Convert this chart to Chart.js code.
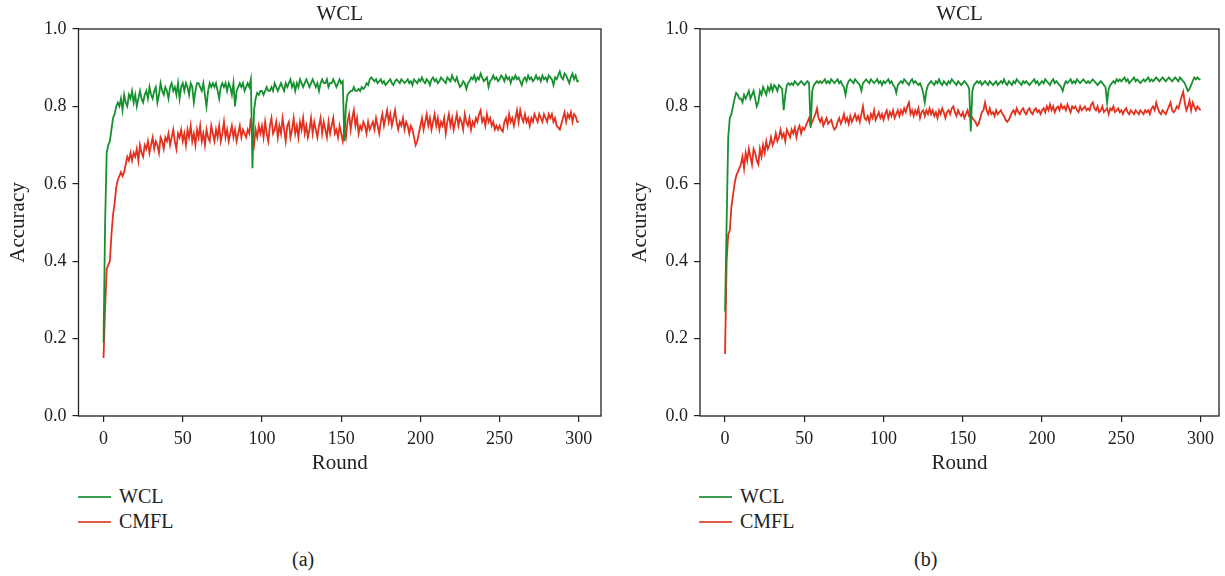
<!DOCTYPE html>
<html>
<head>
<meta charset="utf-8">
<script src="https://cdn.jsdelivr.net/npm/chart.js@4"></script>
<style>
  body { margin: 0; background: #fff; width: 1225px; height: 576px; position: relative; overflow: hidden; font-family: "Liberation Serif", "DejaVu Serif", serif; color: #222; }
  canvas { position: absolute; top: 0; }
  #chartA { left: 0; }
  #chartB { left: 612px; }
  .legend { position: absolute; font-size: 20px; line-height: 25px; }
  .legend div { position: relative; padding-left: 41px; }
  .legend span { position: absolute; left: 0; top: 12px; width: 33px; height: 1.6px; }
  .caption { position: absolute; font-size: 20px; top: 548px; }
</style>
</head>
<body>
<canvas id="chartA" width="612" height="480"></canvas>
<canvas id="chartB" width="613" height="480"></canvas>

<div class="legend" style="left:78px; top:484px;">
  <div><span style="background:#3d9c50"></span>WCL</div>
  <div><span style="background:#e55a48"></span>CMFL</div>
</div>
<div class="legend" style="left:699px; top:484px;">
  <div><span style="background:#3d9c50"></span>WCL</div>
  <div><span style="background:#e55a48"></span>CMFL</div>
</div>
<div class="caption" style="left:292px;">(a)</div>
<div class="caption" style="left:914px;">(b)</div>

<script>
// rounds 0..300
const rounds = Array.from({ length: 301 }, (_, i) => i);
const yTicks = [0, 0.2, 0.4, 0.6, 0.8, 1.0];

// panel (a)
const wclA = [
  0.19, 0.50, 0.68, 0.70, 0.71, 0.74, 0.77, 0.78, 0.80, 0.81,
  0.80, 0.82, 0.79, 0.83, 0.81, 0.80, 0.83, 0.82, 0.84, 0.81,
  0.83, 0.80, 0.82, 0.84, 0.82, 0.81, 0.83, 0.84, 0.82, 0.85,
  0.83, 0.82, 0.84, 0.85, 0.81, 0.83, 0.86, 0.84, 0.83, 0.85,
  0.84, 0.82, 0.85, 0.86, 0.84, 0.85, 0.83, 0.86, 0.82, 0.85,
  0.86, 0.84, 0.86, 0.85, 0.83, 0.86, 0.85, 0.81, 0.84, 0.86,
  0.86, 0.85, 0.84, 0.86, 0.83, 0.80, 0.84, 0.86, 0.85, 0.86,
  0.85, 0.86, 0.84, 0.82, 0.85, 0.86, 0.85, 0.86, 0.84, 0.86,
  0.85, 0.83, 0.86, 0.80, 0.84, 0.85, 0.86, 0.85, 0.86, 0.84,
  0.85, 0.86, 0.85, 0.87, 0.64, 0.79, 0.82, 0.835, 0.83, 0.84,
  0.84, 0.83, 0.84, 0.85, 0.84, 0.84, 0.85, 0.84, 0.86, 0.85,
  0.84, 0.85, 0.86, 0.85, 0.84, 0.86, 0.85, 0.86, 0.87, 0.85,
  0.86, 0.84, 0.86, 0.85, 0.87, 0.86, 0.85, 0.86, 0.87, 0.86,
  0.85, 0.86, 0.87, 0.86, 0.85, 0.86, 0.84, 0.86, 0.87, 0.86,
  0.86, 0.87, 0.85, 0.86, 0.86, 0.87, 0.86, 0.85, 0.86, 0.87,
  0.86, 0.865, 0.71, 0.80, 0.83, 0.835, 0.84, 0.84, 0.85, 0.84,
  0.84, 0.845, 0.84, 0.85, 0.845, 0.85, 0.86, 0.855, 0.87, 0.875,
  0.87, 0.865, 0.87, 0.86, 0.865, 0.87, 0.86, 0.865, 0.855, 0.86,
  0.865, 0.87, 0.86, 0.855, 0.865, 0.87, 0.865, 0.86, 0.87, 0.865,
  0.86, 0.865, 0.87, 0.86, 0.865, 0.855, 0.87, 0.865, 0.86, 0.87,
  0.865, 0.875, 0.865, 0.86, 0.87, 0.865, 0.855, 0.87, 0.875, 0.865,
  0.87, 0.86, 0.865, 0.875, 0.87, 0.865, 0.86, 0.875, 0.87, 0.865,
  0.88, 0.87, 0.865, 0.875, 0.86, 0.85, 0.855, 0.865, 0.86, 0.845,
  0.86, 0.865, 0.875, 0.87, 0.88, 0.865, 0.875, 0.87, 0.885, 0.875,
  0.865, 0.87, 0.875, 0.85, 0.865, 0.87, 0.88, 0.87, 0.875, 0.865,
  0.87, 0.88, 0.875, 0.865, 0.88, 0.87, 0.875, 0.86, 0.875, 0.87,
  0.88, 0.87, 0.875, 0.865, 0.855, 0.87, 0.875, 0.865, 0.88, 0.87,
  0.875, 0.865, 0.87, 0.88, 0.87, 0.875, 0.865, 0.88, 0.87, 0.875,
  0.865, 0.88, 0.875, 0.87, 0.855, 0.875, 0.87, 0.88, 0.89, 0.875,
  0.87, 0.885, 0.88, 0.87, 0.86, 0.875, 0.885, 0.87, 0.88, 0.865,
  0.865
];
const cmflA = [
  0.15, 0.28, 0.38, 0.39, 0.40, 0.47, 0.52, 0.55, 0.59, 0.61,
  0.62, 0.63, 0.62, 0.63, 0.65, 0.67, 0.66, 0.68, 0.66, 0.68,
  0.67, 0.69, 0.66, 0.70, 0.68, 0.67, 0.70, 0.69, 0.71, 0.68,
  0.70, 0.72, 0.69, 0.71, 0.70, 0.68, 0.72, 0.71, 0.69, 0.72,
  0.71, 0.73, 0.70, 0.72, 0.74, 0.71, 0.69, 0.73, 0.72, 0.74,
  0.71, 0.73, 0.70, 0.74, 0.72, 0.75, 0.71, 0.73, 0.70, 0.74,
  0.72, 0.75, 0.71, 0.73, 0.70, 0.74, 0.72, 0.71, 0.75, 0.73,
  0.71, 0.74, 0.72, 0.75, 0.71, 0.73, 0.76, 0.72, 0.74, 0.71,
  0.73, 0.75, 0.72, 0.74, 0.71, 0.73, 0.75, 0.72, 0.74, 0.73,
  0.72, 0.74, 0.73, 0.77, 0.72, 0.70, 0.74, 0.72, 0.75, 0.73,
  0.75, 0.72, 0.76, 0.73, 0.71, 0.75, 0.77, 0.73, 0.74, 0.76,
  0.72, 0.75, 0.73, 0.77, 0.74, 0.71, 0.75, 0.76, 0.72, 0.74,
  0.77, 0.73, 0.75, 0.72, 0.76, 0.74, 0.77, 0.73, 0.75, 0.72,
  0.74, 0.77, 0.73, 0.76, 0.74, 0.72, 0.75, 0.77, 0.73, 0.76,
  0.74, 0.72, 0.76, 0.73, 0.75, 0.77, 0.73, 0.74, 0.72, 0.75,
  0.73, 0.71, 0.74, 0.72, 0.76, 0.78, 0.74, 0.77, 0.79, 0.75,
  0.77, 0.73, 0.75, 0.74, 0.76, 0.75, 0.73, 0.76, 0.74, 0.75,
  0.76, 0.74, 0.77, 0.75, 0.73, 0.76, 0.78, 0.75, 0.77, 0.79,
  0.76, 0.78, 0.75, 0.77, 0.79, 0.76, 0.74, 0.76, 0.75, 0.77,
  0.74, 0.76, 0.75, 0.73, 0.75, 0.74, 0.72, 0.70, 0.71, 0.73,
  0.75, 0.77, 0.74, 0.76, 0.78, 0.75, 0.77, 0.74, 0.76, 0.78,
  0.75, 0.77, 0.74, 0.76, 0.75, 0.77, 0.73, 0.76, 0.78, 0.75,
  0.77, 0.74, 0.76, 0.78, 0.75, 0.77, 0.76, 0.74, 0.78, 0.76,
  0.75, 0.77, 0.74, 0.76, 0.75, 0.77, 0.76, 0.78, 0.79, 0.76,
  0.77, 0.75, 0.78, 0.76, 0.77, 0.75, 0.76, 0.74, 0.75, 0.74,
  0.75, 0.74, 0.735, 0.76, 0.77, 0.75, 0.78, 0.76, 0.77, 0.75,
  0.77, 0.79, 0.76, 0.79, 0.77, 0.76, 0.78, 0.76, 0.77, 0.75,
  0.77, 0.76, 0.78, 0.77, 0.76, 0.78, 0.77, 0.76, 0.78, 0.77,
  0.76, 0.78, 0.77, 0.78, 0.76, 0.77, 0.75, 0.745, 0.74, 0.755,
  0.77, 0.785, 0.76, 0.78, 0.77, 0.785, 0.76, 0.78, 0.775, 0.76,
  0.76
];

// panel (b)
const wclB = [
  0.27, 0.50, 0.72, 0.77, 0.78, 0.80, 0.82, 0.835, 0.83, 0.82,
  0.82, 0.81, 0.83, 0.82, 0.83, 0.84, 0.82, 0.83, 0.84, 0.82,
  0.80, 0.81, 0.84, 0.83, 0.85, 0.84, 0.83, 0.85, 0.84, 0.855,
  0.84, 0.855, 0.85, 0.84, 0.855, 0.85, 0.845, 0.79, 0.83, 0.855,
  0.86, 0.855, 0.86, 0.855, 0.865, 0.86, 0.855, 0.86, 0.865, 0.86,
  0.855, 0.86, 0.865, 0.86, 0.745, 0.84, 0.855, 0.86, 0.865, 0.86,
  0.865, 0.86, 0.865, 0.87, 0.86, 0.865, 0.86, 0.87, 0.865, 0.86,
  0.865, 0.87, 0.86, 0.865, 0.855, 0.85, 0.83, 0.855, 0.865, 0.87,
  0.865, 0.86, 0.87, 0.865, 0.86, 0.855, 0.84, 0.86, 0.865, 0.87,
  0.865, 0.86, 0.87, 0.865, 0.86, 0.865, 0.87, 0.86, 0.865, 0.855,
  0.865, 0.86, 0.865, 0.87, 0.86, 0.865, 0.855, 0.85, 0.835, 0.855,
  0.86, 0.865, 0.86, 0.87, 0.865, 0.86, 0.855, 0.865, 0.87, 0.86,
  0.865, 0.86, 0.855, 0.86, 0.85, 0.835, 0.81, 0.84, 0.855, 0.86,
  0.865, 0.86, 0.855, 0.865, 0.86, 0.87, 0.86, 0.855, 0.865, 0.86,
  0.855, 0.865, 0.86, 0.87, 0.865, 0.86, 0.855, 0.865, 0.86, 0.855,
  0.86, 0.865, 0.86, 0.855, 0.845, 0.735, 0.84, 0.855, 0.86, 0.865,
  0.86, 0.865, 0.855, 0.86, 0.865, 0.86, 0.855, 0.865, 0.86, 0.855,
  0.86, 0.865, 0.855, 0.86, 0.865, 0.86, 0.87, 0.86, 0.855, 0.865,
  0.86, 0.855, 0.865, 0.86, 0.87, 0.865, 0.86, 0.855, 0.865, 0.86,
  0.865, 0.86, 0.855, 0.86, 0.865, 0.87, 0.86, 0.865, 0.855, 0.86,
  0.865, 0.86, 0.87, 0.865, 0.86, 0.855, 0.865, 0.87, 0.86, 0.865,
  0.86, 0.855, 0.85, 0.84, 0.855, 0.865, 0.86, 0.865, 0.87, 0.86,
  0.865, 0.86, 0.87, 0.865, 0.86, 0.865, 0.87, 0.865, 0.86, 0.865,
  0.86, 0.865, 0.87, 0.865, 0.86, 0.855, 0.86, 0.865, 0.86, 0.855,
  0.85, 0.81, 0.845, 0.855, 0.86, 0.865, 0.86, 0.87, 0.865, 0.87,
  0.865, 0.87, 0.875, 0.865, 0.87, 0.86, 0.865, 0.87, 0.875, 0.865,
  0.87, 0.865, 0.86, 0.865, 0.87, 0.865, 0.87, 0.875, 0.865, 0.87,
  0.865, 0.87, 0.875, 0.87, 0.865, 0.87, 0.875, 0.87, 0.865, 0.87,
  0.875, 0.87, 0.865, 0.87, 0.875, 0.87, 0.865, 0.875, 0.87, 0.865,
  0.86, 0.85, 0.84, 0.845, 0.855, 0.865, 0.875, 0.87, 0.875, 0.87,
  0.87
];
const cmflB = [
  0.16, 0.40, 0.47, 0.48, 0.54, 0.57, 0.60, 0.62, 0.63, 0.64,
  0.65, 0.67, 0.64, 0.68, 0.66, 0.69, 0.67, 0.65, 0.69, 0.68,
  0.66, 0.65, 0.69, 0.67, 0.70, 0.68, 0.71, 0.69, 0.70, 0.72,
  0.70, 0.71, 0.73, 0.71, 0.72, 0.74, 0.72, 0.73, 0.71, 0.74,
  0.73, 0.72, 0.74, 0.73, 0.745, 0.72, 0.74, 0.75, 0.73, 0.745,
  0.74, 0.75, 0.76, 0.77, 0.75, 0.76, 0.77, 0.78, 0.795, 0.77,
  0.76, 0.77, 0.75, 0.76, 0.77, 0.755, 0.76, 0.765, 0.75, 0.74,
  0.745, 0.76, 0.77, 0.755, 0.765, 0.78, 0.76, 0.77, 0.755, 0.775,
  0.76, 0.77, 0.78, 0.765, 0.775, 0.76, 0.78, 0.80, 0.77, 0.765,
  0.775, 0.76, 0.78, 0.77, 0.79, 0.765, 0.775, 0.785, 0.77, 0.78,
  0.765, 0.78, 0.79, 0.77, 0.785, 0.775, 0.79, 0.77, 0.78, 0.79,
  0.775, 0.79, 0.78, 0.795, 0.785, 0.80, 0.81, 0.78, 0.79, 0.775,
  0.79, 0.78, 0.795, 0.77, 0.785, 0.79, 0.775, 0.79, 0.78, 0.795,
  0.78, 0.79, 0.775, 0.785, 0.77, 0.79, 0.78, 0.795, 0.785, 0.77,
  0.785, 0.79, 0.78, 0.795, 0.80, 0.785, 0.775, 0.79, 0.78, 0.775,
  0.785, 0.77, 0.78, 0.79, 0.775, 0.78, 0.77, 0.765, 0.76, 0.75,
  0.755, 0.77, 0.785, 0.79, 0.81, 0.79, 0.78, 0.795, 0.78, 0.785,
  0.775, 0.79, 0.78, 0.785, 0.79, 0.78, 0.775, 0.765, 0.76, 0.765,
  0.775, 0.785, 0.79, 0.78, 0.795, 0.785, 0.78, 0.79, 0.795, 0.785,
  0.78, 0.79, 0.795, 0.785, 0.78, 0.79, 0.795, 0.785, 0.79, 0.78,
  0.79, 0.795, 0.785, 0.80, 0.79, 0.805, 0.79, 0.80, 0.785, 0.795,
  0.80, 0.79, 0.805, 0.795, 0.80, 0.79, 0.805, 0.795, 0.785, 0.80,
  0.795, 0.80, 0.79, 0.785, 0.80, 0.79, 0.795, 0.80, 0.79, 0.795,
  0.79, 0.805, 0.81, 0.795, 0.79, 0.80, 0.785, 0.79, 0.80, 0.785,
  0.79, 0.795, 0.78, 0.795, 0.79, 0.80, 0.785, 0.79, 0.795, 0.785,
  0.79, 0.78, 0.79, 0.795, 0.785, 0.78, 0.79, 0.785, 0.78, 0.79,
  0.785, 0.78, 0.79, 0.785, 0.78, 0.79, 0.785, 0.79, 0.78, 0.795,
  0.80, 0.79, 0.81, 0.795, 0.785, 0.78, 0.79, 0.785, 0.78, 0.79,
  0.80, 0.81, 0.79, 0.785, 0.79, 0.80, 0.795, 0.81, 0.825, 0.838,
  0.81, 0.79, 0.80, 0.815, 0.79, 0.81, 0.80, 0.79, 0.80, 0.795,
  0.79
];

const GREEN = '#17902f';
const RED = '#e2321f';
const FONT = 'Liberation Serif';

// draws the full box around the plot area
const frame = {
    id: 'frame',
    afterDatasetsDraw(chart) {
        const a = chart.chartArea;
        const ctx = chart.ctx;
        ctx.save();
        ctx.strokeStyle = '#222';
        ctx.lineWidth = 1.3;
        ctx.strokeRect(a.left, a.top, a.right - a.left, a.bottom - a.top);
        ctx.restore();
    }
};

function makeChart(id, wcl, cmfl, opts) {
    const ctx = document.getElementById(id).getContext('2d');
    const tickGrid = { drawOnChartArea: false, drawTicks: true, tickLength: 6, color: '#222', lineWidth: 1.2 };
    return new Chart(ctx, {
        type: 'line',
        data: {
            datasets: [
                {
                    label: 'WCL',
                    data: rounds.map((r, i) => ({ x: r, y: wcl[i] })),
                    borderColor: GREEN,
                    borderWidth: 1.8,
                    pointRadius: 0,
                    tension: 0
                },
                {
                    label: 'CMFL',
                    data: rounds.map((r, i) => ({ x: r, y: cmfl[i] })),
                    borderColor: RED,
                    borderWidth: 1.8,
                    pointRadius: 0,
                    tension: 0
                }
            ]
        },
        options: {
            responsive: false,
            animation: false,
            devicePixelRatio: 1,
            layout: { padding: { left: 0, right: opts.padRight, top: 0, bottom: 0 } },
            scales: {
                x: {
                    type: 'linear',
                    min: opts.xMin,
                    max: opts.xMax,
                    afterBuildTicks: s => { s.ticks = [0, 50, 100, 150, 200, 250, 300].map(v => ({ value: v })); },
                    ticks: { color: '#222', font: { family: FONT, size: 18 }, padding: 6, maxRotation: 0 },
                    grid: tickGrid,
                    border: { display: false },
                    title: { display: true, text: 'Round', color: '#222', font: { family: FONT, size: 21 }, padding: { top: 0, bottom: 4.4 } },
                    afterFit: s => { s.height = 64; }
                },
                xTop: {
                    type: 'linear',
                    position: 'top',
                    min: opts.xMin,
                    max: opts.xMax,
                    ticks: { display: false },
                    grid: { display: false },
                    border: { display: false },
                    title: { display: true, text: 'WCL', color: '#222', font: { family: FONT, size: 21 }, padding: { top: 1.4, bottom: 0 } },
                    afterFit: s => { s.height = 29; }
                },
                y: {
                    min: 0,
                    max: 1,
                    afterBuildTicks: s => { s.ticks = yTicks.map(v => ({ value: v })); },
                    ticks: { color: '#222', font: { family: FONT, size: 18 }, padding: 6, callback: v => v.toFixed(1) },
                    grid: tickGrid,
                    border: { display: false },
                    title: { display: true, text: 'Accuracy', color: '#222', font: { family: FONT, size: 21 }, padding: { top: opts.yTitlePad, bottom: 0 } },
                    afterFit: s => { s.width = opts.yWidth; }
                }
            },
            plugins: {
                legend: { display: false },
                tooltip: { enabled: false }
            }
        },
        plugins: [frame]
    });
}

makeChart('chartA', wclA, cmflA, { xMin: -15.8, xMax: 314, padRight: 11, yWidth: 78.5, yTitlePad: 5.4 });
makeChart('chartB', wclB, cmflB, { xMin: -15.8, xMax: 311.6, padRight: 6, yWidth: 88, yTitlePad: 15.4 });
</script>
</body>
</html>
